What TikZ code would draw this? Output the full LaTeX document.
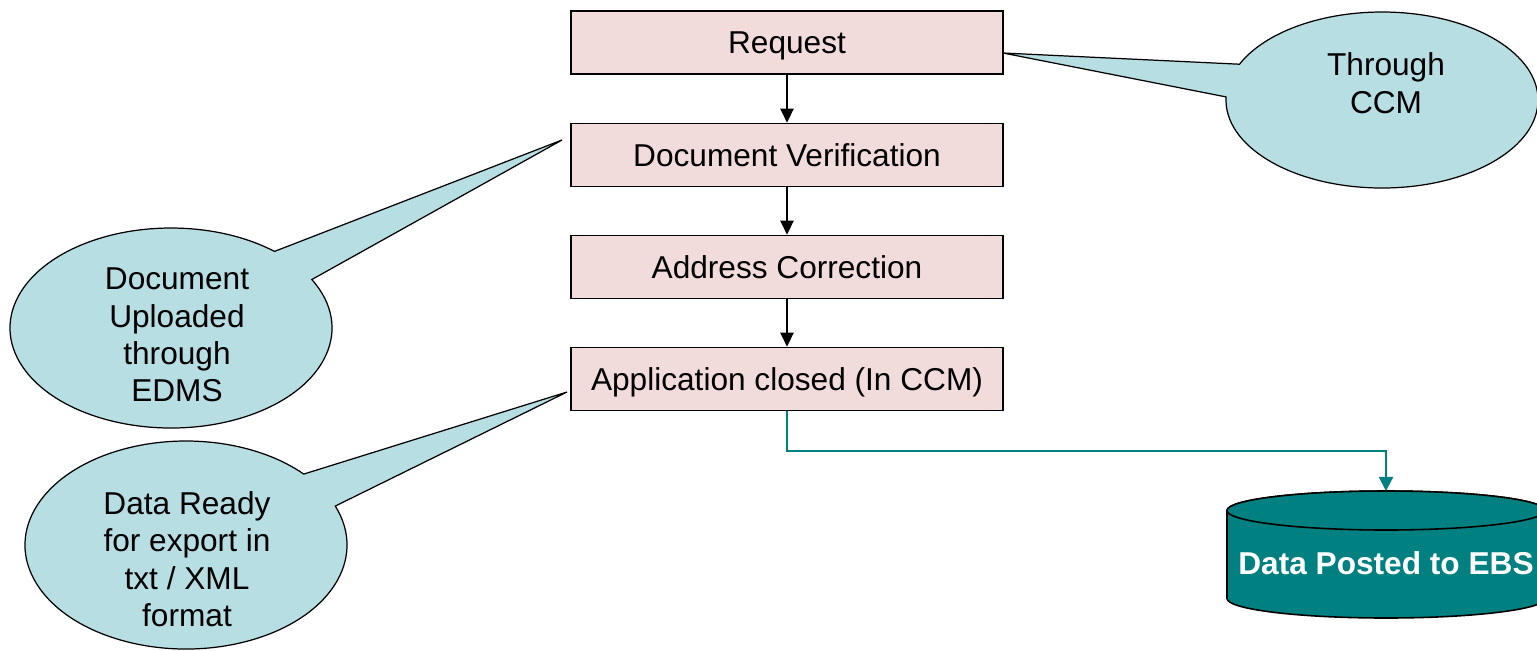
\documentclass[tikz,border=0pt]{standalone}
\usepackage{fontspec}
\setmainfont{Liberation Sans}
\usetikzlibrary{arrows.meta}
\definecolor{boxpink}{RGB}{242,220,219}
\definecolor{bubble}{RGB}{183,222,226}
\definecolor{ebsteal}{RGB}{0,128,128}
\tikzset{
  stepbox/.style={draw, line width=0.9pt, fill=boxpink, minimum width=8.64cm, minimum height=1.26cm, text height=12.9pt, text depth=0pt, font=\fontsize{18}{21.3}\selectfont},
  bubbletext/.style={align=center, font=\fontsize{18}{21.3}\selectfont},
  bubbleshape/.style={draw, line width=0.7pt, fill=bubble},
}
\begin{document}
\begin{tikzpicture}[x=0.02cm, y=-0.02cm, >={Triangle[length=8pt,width=7.5pt]}]
    \useasboundingbox (0,0) rectangle (1537,650);
    \clip (0,0) rectangle (1537,650);
    % steps
    \node (req) at (787,42.5) [stepbox]{Request};
    \node (ver) at (787,155) [stepbox]{Document Verification};
    \node (adr) at (787,267) [stepbox]{Address Correction};
    \node (app) at (787,379) [stepbox]{Application closed (In CCM)};
    \draw [->, line width=1pt](req)--(ver);
    \draw [->, line width=1pt](ver)--(adr);
    \draw [->, line width=1pt](adr)--(app);
    % callouts
    \draw [bubbleshape](1003,53) -- ([shift={(1382,100)}]182:156 and 88) arc[start angle=182, end angle=-156, x radius=156, y radius=88] -- cycle;
    \draw [bubbleshape](562,140) -- ([shift={(171,328)}]-29:161 and 100) arc[start angle=-29, end angle=310, x radius=161, y radius=100] -- cycle;
    \draw [bubbleshape](567,392) -- ([shift={(186,545)}]-22:161 and 104) arc[start angle=-22, end angle=317, x radius=161, y radius=104] -- cycle;
    \node (ccm) at (1386,83) [bubbletext]{Through\\CCM};
    \node (edms) at (177,335) [bubbletext]{Document\\Uploaded\\through\\EDMS};
    \node (ready) at (187,559) [bubbletext]{Data Ready\\for export in\\txt / XML\\format};
    % database
    \draw [fill=ebsteal, line width=0.9pt](1227,510.5) -- (1227,598.5) arc[start angle=180, end angle=0, x radius=159, y radius=19.5] -- (1545,510.5) arc[start angle=0, end angle=-180, x radius=159, y radius=19.5] -- cycle;
    \draw [fill=ebsteal, line width=0.9pt](1386,510.5) ellipse [x radius=159, y radius=19.5];
    \coordinate (ebstop) at (1386,491);
    \node (ebs) at (1386,563) [text=white, font=\fontsize{18}{21.3}\selectfont\bfseries]{Data Posted to EBS};
    \draw [->, ebsteal, line width=1.1pt, >={Triangle[length=8pt,width=8pt]}](app.south) -- ++(0,40) -| (ebstop);
\end{tikzpicture}
\end{document}
